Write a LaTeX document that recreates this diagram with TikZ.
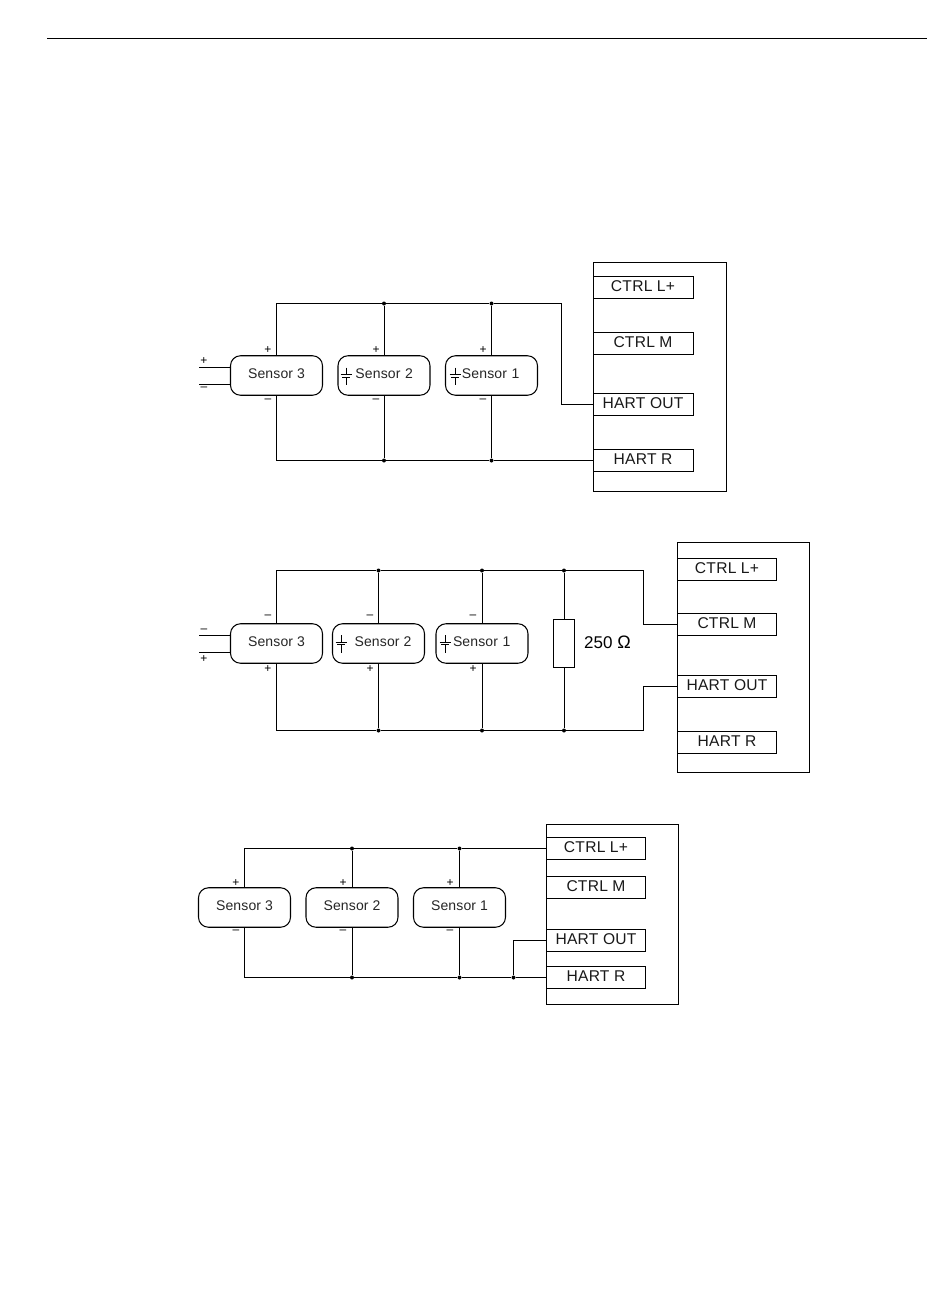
\documentclass[tikz,border=0pt]{standalone}
\usepackage{fontspec}
\setmainfont{Liberation Sans}
\newfontfamily\snsfont[LetterSpace=1]{Liberation Sans}
\newfontfamily\trmfont[LetterSpace=1.5]{Liberation Sans}
\newcommand{\capsym}[2]{%
  \draw[wire] (#1,#2-8.5) -- (#1,#2-1.2) (#1-5.5,#2-1.2) -- (#1+5.5,#2-1.2)
    (#1-3.8,#2+1.4) -- (#1+3.8,#2+1.4) (#1,#2+1.4) -- (#1,#2+9);}
\tikzset{
  wire/.style={draw=black,line width=0.9pt},
  sensorbox/.style={draw=black,line width=1.05pt,rounded corners=10pt,minimum width=92pt,minimum height=39.5pt,inner sep=0pt,text height=10pt,text depth=5pt,font=\snsfont\fontsize{14}{15}\selectfont,text=black!85},
  termbox/.style={draw=black,line width=0.9pt,minimum width=100pt,minimum height=22pt,inner sep=0pt,text height=10.5pt,text depth=2.5pt,font=\trmfont\fontsize{15.6}{16}\selectfont,text=black!90},
  unitbox/.style={draw=black,line width=0.9pt,inner sep=0pt},
  sign/.style={inner sep=0pt,yshift=-1.2pt,font=\fontsize{12}{13}\selectfont},
  dotj/.style={circle,fill=black,inner sep=0pt,minimum size=4pt},
}
\begin{document}
\begin{tikzpicture}[x=1pt,y=-1pt]
\useasboundingbox (0,0) rectangle (950,1301);
\fill[white] (0,0) rectangle (950,1301);
\coordinate (ruleL) at (47,38.5); \coordinate (ruleR) at (927,38.5);
\draw[wire] (ruleL) -- (ruleR);

% ---- diagram 1
\node[unitbox,minimum width=133pt,minimum height=229pt] (aU) at (659.5,376.5) {};
\node[termbox] (aT1) at (643,287) {CTRL L+};
\node[termbox] (aT2) at (643,343) {CTRL M};
\node[termbox] (aT3) at (643,404.5) {HART OUT};
\node[termbox] (aT4) at (643,460.5) {HART R};
\node[sensorbox] (aS3) at (276.5,375.5) {Sensor 3};
\node[sensorbox,text width=76pt,align=right] (aS2) at (384,375.5) {Sensor 2\hspace*{9pt}};
\node[sensorbox,text width=76pt,align=right] (aS1) at (491.5,375.5) {Sensor 1\hspace*{10pt}};
\capsym{346}{376}\capsym{455}{376}
\node[dotj] (aJt2) at (384,303.5) {}; \node[dotj] (aJt1) at (491.5,303.5) {};
\node[dotj] (aJb2) at (384,460.5) {}; \node[dotj] (aJb1) at (491.5,460.5) {};
\coordinate (aTc) at (561,303.5);
\draw[wire] (aS3.north) |- (aJt2) -- (aJt1) -- (aTc) |- (aT3.west);
\draw[wire] (aS3.south) |- (aJb2) -- (aJb1) -- (aT4.west);
\draw[wire] (aS2.north) -- (aJt2) (aS1.north) -- (aJt1);
\draw[wire] (aS2.south) -- (aJb2) (aS1.south) -- (aJb1);
\coordinate (aL1) at (199,367); \coordinate (aL2) at (199,384);
\draw[wire] (aL1) -- (aL1-|aS3.west) (aL2) -- (aL2-|aS3.west);
\node[sign] (ap0) at (204,360) {+}; \node[sign] (am0) at (204,387.5) {–};
\node[sign] (ap3) at (268,349) {+}; \node[sign] (am3) at (268,399.5) {–};
\node[sign] (ap2) at (376,349) {+}; \node[sign] (am2) at (376,399.5) {–};
\node[sign] (ap1) at (483,349) {+}; \node[sign] (am1) at (483,399.5) {–};

% ---- diagram 2
\node[unitbox,minimum width=132pt,minimum height=230pt] (bU) at (743,657.5) {};
\node[termbox,minimum width=99pt] (bT1) at (727,569) {CTRL L+};
\node[termbox,minimum width=99pt] (bT2) at (727,624.5) {CTRL M};
\node[termbox,minimum width=99pt] (bT3) at (727,686) {HART OUT};
\node[termbox,minimum width=99pt] (bT4) at (727,742) {HART R};
\node[sensorbox] (bS3) at (276.5,643.5) {Sensor 3};
\node[sensorbox] (bS2) at (378.5,643.5) {\hspace*{9pt}Sensor 2};
\node[sensorbox,text width=76pt,align=left] (bS1) at (482,643.5) {\hspace*{9pt}Sensor 1};
\capsym{341}{643.5}\capsym{445}{643.5}
\node[unitbox,minimum width=21pt,minimum height=48pt] (bR) at (564,643) {};
\node[inner sep=0pt,anchor=west,font=\fontsize{17}{19}\selectfont] (bRl) at (584,642) {250 {\fontsize{18}{19}\selectfont Ω}};
\node[dotj] (bJt2) at (378.5,570.5) {}; \node[dotj] (bJt1) at (482,570.5) {}; \node[dotj] (bJtr) at (564,570.5) {};
\node[dotj] (bJb2) at (378.5,730.5) {}; \node[dotj] (bJb1) at (482,730.5) {}; \node[dotj] (bJbr) at (564,730.5) {};
\coordinate (bTc) at (643.5,570.5); \coordinate (bTd) at (643.5,624.5);
\coordinate (bBc) at (643.5,730.5); \coordinate (bBd) at (643.5,686);
\draw[wire] (bS3.north) |- (bJt2) -- (bJt1) -- (bJtr) -- (bTc) -- (bTd) -- (bT2.west);
\draw[wire] (bS3.south) |- (bJb2) -- (bJb1) -- (bJbr) -- (bBc) -- (bBd) -- (bT3.west);
\draw[wire] (bS2.north) -- (bJt2) (bS1.north) -- (bJt1) (bR.north) -- (bJtr);
\draw[wire] (bS2.south) -- (bJb2) (bS1.south) -- (bJb1) (bR.south) -- (bJbr);
\coordinate (bL1) at (199,635); \coordinate (bL2) at (199,652);
\draw[wire] (bL1) -- (bL1-|bS3.west) (bL2) -- (bL2-|bS3.west);
\node[sign] (bm0) at (204,630) {–}; \node[sign] (bp0) at (204,658) {+};
\node[sign] (bm3) at (268,616) {–}; \node[sign] (bp3) at (268,668) {+};
\node[sign] (bm2) at (370,616) {–}; \node[sign] (bp2) at (370,668) {+};
\node[sign] (bm1) at (473,616) {–}; \node[sign] (bp1) at (473,668) {+};

% ---- diagram 3
\node[unitbox,minimum width=132pt,minimum height=180pt] (cU) at (612.5,914.5) {};
\node[termbox,minimum width=99pt] (cT1) at (596,848.5) {CTRL L+};
\node[termbox,minimum width=99pt] (cT2) at (596,887.5) {CTRL M};
\node[termbox,minimum width=99pt] (cT3) at (596,940) {HART OUT};
\node[termbox,minimum width=99pt] (cT4) at (596,977.5) {HART R};
\node[sensorbox] (cS3) at (244.5,907.5) {Sensor 3};
\node[sensorbox] (cS2) at (352,907.5) {Sensor 2};
\node[sensorbox] (cS1) at (459.5,907.5) {Sensor 1};
\node[dotj] (cJt2) at (352,848.5) {}; \node[dotj] (cJt1) at (459.5,848.5) {};
\node[dotj] (cJb2) at (352,977.5) {}; \node[dotj] (cJb1) at (459.5,977.5) {}; \node[dotj] (cJb0) at (513.5,977.5) {};
\coordinate (cUp) at (513.5,940);
\draw[wire] (cS3.north) |- (cJt2) -- (cJt1) -- (cT1.west);
\draw[wire] (cS3.south) |- (cJb2) -- (cJb1) -- (cJb0) -- (cT4.west);
\draw[wire] (cS2.north) -- (cJt2) (cS1.north) -- (cJt1);
\draw[wire] (cS2.south) -- (cJb2) (cS1.south) -- (cJb1);
\draw[wire] (cJb0) -- (cUp) -- (cT3.west);
\node[sign] (cp3) at (236,881.5) {+}; \node[sign] (cm3) at (236,931) {–};
\node[sign] (cp2) at (343,881.5) {+}; \node[sign] (cm2) at (343,931) {–};
\node[sign] (cp1) at (450,881.5) {+}; \node[sign] (cm1) at (450,931) {–};
\end{tikzpicture}
\end{document}
